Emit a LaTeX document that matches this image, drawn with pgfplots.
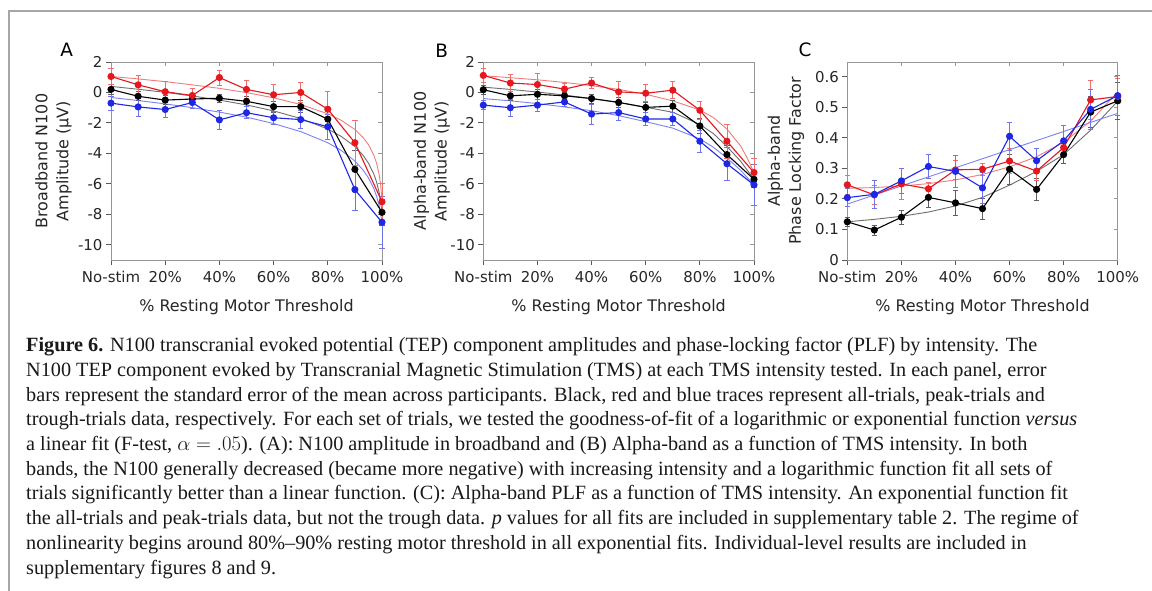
\documentclass[border=0pt]{standalone}
\usepackage{fontspec}
\setmainfont{DejaVu Sans}
\newfontfamily\capfont[Ligatures=TeX]{Liberation Serif}
\usepackage{pgfplots}
\pgfplotsset{compat=1.18}
\usepackage{pgfplotstable}

\definecolor{cR}{RGB}{228,24,30}
\definecolor{cB}{RGB}{30,40,228}
\definecolor{cK}{RGB}{0,0,0}
\definecolor{fR}{RGB}{240,125,125}
\definecolor{fB}{RGB}{125,130,240}
\definecolor{fK}{RGB}{110,110,110}
\definecolor{eR}{RGB}{238,110,110}
\definecolor{eB}{RGB}{110,115,238}
\definecolor{eK}{RGB}{95,95,95}
\definecolor{axc}{RGB}{150,150,150}

% ---------------- Panel A data ----------------
\pgfplotstableread{
x y e
0 1.05 0.55
10 0.50 0.60
20 0.05 0.65
30 -0.20 0.45
40 0.98 0.50
50 0.20 0.60
60 -0.15 0.65
70 0.00 0.65
80 -1.10 1.18
90 -3.30 1.50
100 -7.18 1.22
}\Ar
\pgfplotstableread{
x y e
0 0.20 0.30
10 -0.25 0.30
20 -0.50 0.30
30 -0.43 0.30
40 -0.38 0.25
50 -0.58 0.30
60 -0.93 0.35
70 -0.93 0.40
80 -1.75 0.55
90 -5.05 1.25
100 -7.87 0.85
}\Ak
\pgfplotstableread{
x y e
0 -0.70 0.45
10 -0.95 0.60
20 -1.12 0.50
30 -0.66 0.40
40 -1.80 0.65
50 -1.33 0.40
60 -1.66 0.45
70 -1.78 0.60
80 -2.25 0.80
90 -6.38 1.37
100 -8.52 1.72
}\Ab
\pgfplotstableread{
x y
0 1.05
10 0.89
20 0.71
30 0.50
40 0.27
50 -0.01
60 -0.35
70 -0.79
80 -1.40
85 -1.83
90 -2.43
93 -2.95
95 -3.42
97 -4.12
98 -4.64
99 -5.43
99.5 -6.05
100 -7.12
}\Afr
\pgfplotstableread{
x y
0 0.40
10 0.21
20 0.01
30 -0.23
40 -0.50
50 -0.82
60 -1.21
70 -1.71
80 -2.40
85 -2.89
90 -3.55
93 -4.12
95 -4.64
97 -5.36
98 -5.88
99 -6.61
100 -7.87
}\Afk
\pgfplotstableread{
x y
0 -0.33
10 -0.53
20 -0.75
30 -1.00
40 -1.29
50 -1.62
60 -2.04
70 -2.57
80 -3.30
85 -3.81
90 -4.50
93 -5.09
95 -5.61
97 -6.32
98 -6.81
99 -7.48
100 -8.51
}\Afb

% ---------------- Panel B data ----------------
\pgfplotstableread{
x y e
0 1.12 0.45
10 0.62 0.55
20 0.52 0.75
30 0.22 0.35
40 0.62 0.38
50 0.04 0.70
60 -0.05 0.55
70 0.15 0.55
80 -1.17 0.60
90 -3.20 1.10
100 -5.26 0.95
}\Br
\pgfplotstableread{
x y e
0 0.18 0.30
10 -0.22 0.30
20 -0.12 0.30
30 -0.22 0.25
40 -0.40 0.30
50 -0.65 0.30
60 -0.98 0.35
70 -0.90 0.40
80 -2.20 0.50
90 -4.08 0.60
100 -5.70 0.55
}\Bk
\pgfplotstableread{
x y e
0 -0.83 0.30
10 -1.00 0.55
20 -0.83 0.40
30 -0.62 0.30
40 -1.42 0.65
50 -1.32 0.50
60 -1.74 0.45
70 -1.74 0.45
80 -3.20 0.70
90 -4.68 1.10
100 -6.07 1.35
}\Bb
\pgfplotstableread{
x y
0 1.10
10 0.97
20 0.83
30 0.66
40 0.45
50 0.20
60 -0.12
70 -0.55
80 -1.15
85 -1.65
90 -2.40
95 -3.50
97.5 -4.30
100 -5.26
}\Bfr
\pgfplotstableread{
x y
0 0.35
10 0.20
20 0.03
30 -0.17
40 -0.40
50 -0.66
60 -0.97
70 -1.30
80 -2.10
85 -2.70
90 -3.55
95 -4.50
100 -5.70
}\Bfk
\pgfplotstableread{
x y
0 -0.40
10 -0.55
20 -0.73
30 -0.95
40 -1.20
50 -1.52
60 -1.92
70 -2.34
80 -3.05
85 -3.60
90 -4.30
95 -5.10
100 -6.07
}\Bfb

% ---------------- Panel C data ----------------
\pgfplotstableread{
x y e
0 0.246 0.030
10 0.213 0.030
20 0.249 0.050
30 0.233 0.020
40 0.295 0.030
50 0.297 0.020
60 0.324 0.040
70 0.291 0.030
80 0.368 0.030
90 0.524 0.065
100 0.535 0.060
}\Cr
\pgfplotstableread{
x y e
0 0.125 0.015
10 0.098 0.017
20 0.140 0.022
30 0.205 0.034
40 0.187 0.040
50 0.168 0.035
60 0.297 0.050
70 0.231 0.035
80 0.345 0.030
90 0.484 0.050
100 0.521 0.060
}\Ck
\pgfplotstableread{
x y e
0 0.204 0.030
10 0.215 0.045
20 0.259 0.040
30 0.306 0.040
40 0.290 0.052
50 0.236 0.050
60 0.405 0.047
70 0.325 0.040
80 0.390 0.050
90 0.493 0.065
100 0.538 0.065
}\Cb
\pgfplotstableread{
x y
0 0.235
10 0.237
20 0.242
30 0.250
40 0.262
50 0.280
60 0.305
70 0.338
80 0.385
90 0.455
100 0.550
}\Cfr
\pgfplotstableread{
x y
0 0.125
10 0.133
20 0.143
30 0.157
40 0.177
50 0.205
60 0.245
70 0.290
80 0.345
90 0.425
100 0.520
}\Cfk
\pgfplotstableread{
x y
0 0.183
100 0.480
}\Cfb

\pgfplotsset{
  panel/.style={
    scale only axis, width=271bp, height=198bp,
    xmin=0, xmax=100, clip=false,
    xtick={0,20,40,60,80,100},
    xticklabels={No-stim,20\%,40\%,60\%,80\%,100\%},
    tick align=outside, xtick pos=left, ytick pos=left,
    major tick length=5bp,
    axis line style={draw=axc, line width=0.9bp},
    tick style={draw=black!65, line width=0.9bp},
    /pgf/number format/assume math mode=true,
    ticklabel style={font=\fontsize{15}{18}\selectfont, text=black!85},
    xticklabel style={yshift=-3bp},
    label style={font=\fontsize{16}{21}\selectfont, text=black!85},
    xlabel={\% Resting Motor Threshold},
    xlabel style={at={(axis description cs:0.5,-0.237)}, anchor=center},
    ylabel style={align=center, anchor=center},
  },
  innerax/.style={
    scale only axis, width=271bp, height=198bp,
    xmin=0, xmax=100,
    xtick={0,20,40,60,80,100}, xticklabels={}, yticklabels={},
    tick align=inside, xtick pos=right, ytick pos=right,
    major tick length=4bp,
    axis line style={draw=axc, line width=0.9bp},
    tick style={draw=axc, line width=0.9bp},
  },
  datR/.style={color=cR, line width=1.1bp, mark=*, mark size=3bp,
    mark options={solid, fill=cR, draw=cR},
    error bars/.cd, y dir=both, y explicit,
    error bar style={eR, line width=0.7bp},
    error mark options={rotate=90, mark size=2.6bp, eR, line width=0.7bp}},
  datK/.style={color=cK, line width=1.1bp, mark=*, mark size=3bp,
    mark options={solid, fill=cK, draw=cK},
    error bars/.cd, y dir=both, y explicit,
    error bar style={eK, line width=0.7bp},
    error mark options={rotate=90, mark size=2.6bp, eK, line width=0.7bp}},
  datB/.style={color=cB, line width=1.1bp, mark=*, mark size=3bp,
    mark options={solid, fill=cB, draw=cB},
    error bars/.cd, y dir=both, y explicit,
    error bar style={eB, line width=0.7bp},
    error mark options={rotate=90, mark size=2.6bp, eB, line width=0.7bp}},
  fitR/.style={fR, line width=0.9bp, no marks},
  fitK/.style={fK, line width=0.9bp, no marks},
  fitB/.style={fB, line width=0.9bp, no marks},
}

\begin{document}
\begin{tikzpicture}
\useasboundingbox (0bp,0bp) rectangle (1152bp,-591bp);
\fill[white] (0bp,0bp) rectangle (1152bp,-591bp);
\draw[black!35, line width=1.4bp] (9bp,-591bp) -- (9bp,-11bp) -- (1152bp,-11bp);

% ---------- Panel A ----------
\begin{axis}[innerax, at={(111bp,-260bp)}, anchor=south west, ymin=-11, ymax=2, ytick={-10,-8,-6,-4,-2,0,2}]
\end{axis}
\begin{axis}[panel, at={(111bp,-260bp)}, anchor=south west,
  ymin=-11, ymax=2, ytick={-10,-8,-6,-4,-2,0,2},
  ylabel={Broadband N100\\Amplitude (µV)},
  ylabel style={at={(axis description cs:-0.212,0.5)}}]
\addplot[fitK] table[x=x,y=y] {\Afk};
\addplot[fitB] table[x=x,y=y] {\Afb};
\addplot[fitR] table[x=x,y=y] {\Afr};
\addplot[datK] table[x=x,y=y,y error=e] {\Ak};
\addplot[datB] table[x=x,y=y,y error=e] {\Ab};
\addplot[datR] table[x=x,y=y,y error=e] {\Ar};
\end{axis}
\node[font=\fontsize{18.5}{22}\selectfont] at (66.7bp,-50bp) {A};

% ---------- Panel B ----------
\begin{axis}[innerax, at={(483.3bp,-260bp)}, anchor=south west, width=270.7bp, ymin=-11, ymax=2, ytick={-10,-8,-6,-4,-2,0,2}]
\end{axis}
\begin{axis}[panel, at={(483.3bp,-260bp)}, anchor=south west, width=270.7bp,
  ymin=-11, ymax=2, ytick={-10,-8,-6,-4,-2,0,2},
  ylabel={Alpha-band N100\\Amplitude (µV)},
  ylabel style={at={(axis description cs:-0.19,0.5)}}]
\addplot[fitK] table[x=x,y=y] {\Bfk};
\addplot[fitB] table[x=x,y=y] {\Bfb};
\addplot[fitR] table[x=x,y=y] {\Bfr};
\addplot[datK] table[x=x,y=y,y error=e] {\Bk};
\addplot[datB] table[x=x,y=y,y error=e] {\Bb};
\addplot[datR] table[x=x,y=y,y error=e] {\Br};
\end{axis}
\node[font=\fontsize{18.5}{22}\selectfont] at (441.7bp,-50.5bp) {B};

% ---------- Panel C ----------
\begin{axis}[innerax, at={(847.3bp,-260bp)}, anchor=south west, width=270.4bp, ymin=0, ymax=0.648, ytick={0,0.1,0.2,0.3,0.4,0.5,0.6}]
\end{axis}
\begin{axis}[panel, at={(847.3bp,-260bp)}, anchor=south west, width=270.4bp,
  ymin=0, ymax=0.648, ytick={0,0.1,0.2,0.3,0.4,0.5,0.6},
  yticklabels={0,0.1,0.2,0.3,0.4,0.5,0.6},
  ylabel={Alpha-band\\Phase Locking Factor},
  ylabel style={at={(axis description cs:-0.227,0.5)}}]
\addplot[fitK] table[x=x,y=y] {\Cfk};
\addplot[fitB] table[x=x,y=y] {\Cfb};
\addplot[fitR] table[x=x,y=y] {\Cfr};
\addplot[datK] table[x=x,y=y,y error=e] {\Ck};
\addplot[datR] table[x=x,y=y,y error=e] {\Cr};
\addplot[datB] table[x=x,y=y,y error=e] {\Cb};
\end{axis}
\node[font=\fontsize{18.5}{22}\selectfont] at (805bp,-50bp) {C};

% ---------- Caption ----------
\begin{scope}[every node/.style={anchor=base west, inner sep=0pt, text=black!90, font=\capfont\fontsize{20.3}{24}\selectfont}]
\node at (26bp,-351.7bp) {\textbf{Figure 6.} N100 transcranial evoked potential (TEP) component amplitudes and phase-locking factor (PLF) by intensity. The};
\node at (26bp,-376.4bp) {N100 TEP component evoked by Transcranial Magnetic Stimulation (TMS) at each TMS intensity tested. In each panel, error};
\node at (26bp,-401.1bp) {bars represent the standard error of the mean across participants. Black, red and blue traces represent all-trials, peak-trials and};
\node at (26bp,-425.8bp) {trough-trials data, respectively. For each set of trials, we tested the goodness-of-fit of a logarithmic or exponential function \textit{versus}};
\node at (26bp,-450.5bp) {a linear fit (F-test, $\alpha = .05$). (A): N100 amplitude in broadband and (B) Alpha-band as a function of TMS intensity. In both};
\node at (26bp,-475.2bp) {bands, the N100 generally decreased (became more negative) with increasing intensity and a logarithmic function fit all sets of};
\node at (26bp,-499.9bp) {trials significantly better than a linear function. (C): Alpha-band PLF as a function of TMS intensity. An exponential function fit};
\node at (26bp,-524.6bp) {the all-trials and peak-trials data, but not the trough data. \textit{p} values for all fits are included in supplementary table 2. The regime of};
\node at (26bp,-549.3bp) {nonlinearity begins around 80\%–90\% resting motor threshold in all exponential fits. Individual-level results are included in};
\node at (26bp,-574bp) {supplementary figures 8 and 9.};
\end{scope}
\end{tikzpicture}
\end{document}
